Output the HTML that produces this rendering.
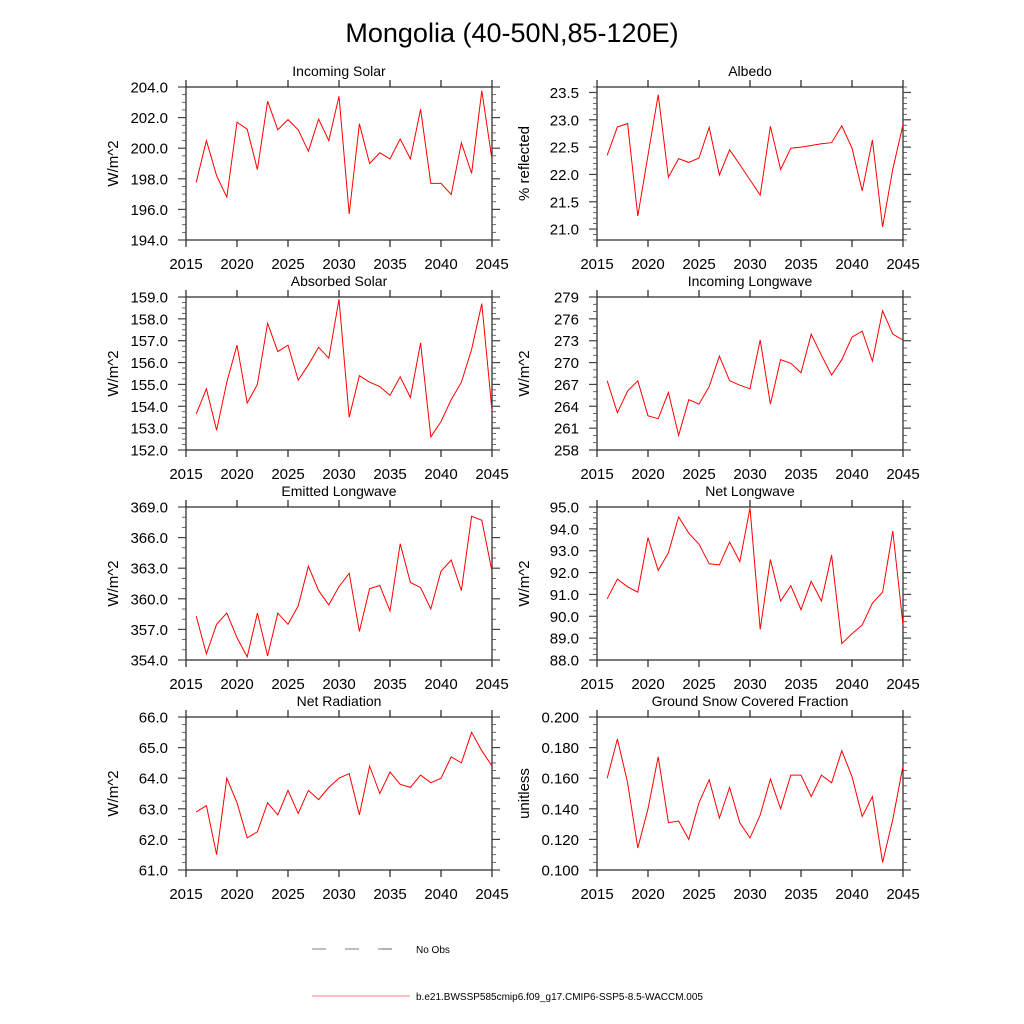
<!DOCTYPE html>
<html><head><meta charset="utf-8"><style>
body{margin:0;background:#fff;}
svg{display:block;font-family:"Liberation Sans",sans-serif;}
</style></head><body>
<svg id="c" width="1024" height="1024"></svg>
<script>
const years=[];for(let y=2016;y<=2045;y++)years.push(y);
const incomingSolar=[197.76,200.5,198.2,196.8,201.7,201.24,198.6,203.07,201.2,201.87,201.2,199.8,201.9,200.5,203.4,195.7,201.6,199.0,199.7,199.3,200.6,199.3,202.55,197.7,197.7,196.97,200.35,198.35,203.76,199.26];
const albedo=[22.35,22.87,22.93,21.24,22.35,23.46,21.95,22.29,22.22,22.3,22.86,21.99,22.45,22.18,21.9,21.62,22.88,22.09,22.48,22.5,22.53,22.56,22.58,22.89,22.48,21.7,22.63,21.04,22.1,22.91];
const absorbedSolar=[153.65,154.8,152.9,155.1,156.8,154.15,155.0,157.8,156.5,156.8,155.2,155.9,156.7,156.2,158.9,153.5,155.4,155.1,154.9,154.5,155.35,154.4,156.9,152.6,153.3,154.3,155.1,156.6,158.7,153.8];
const incomingLW=[267.5,263.1,266.1,267.5,262.7,262.3,265.9,260,264.9,264.3,266.7,270.9,267.5,266.9,266.4,273.1,264.3,270.4,269.9,268.6,273.9,271,268.3,270.4,273.5,274.3,270.2,277.1,273.9,273.1];
const emittedLW=[358.3,354.6,357.5,358.6,356.2,354.3,358.6,354.4,358.6,357.5,359.3,363.2,360.8,359.4,361.2,362.5,356.8,361,361.3,358.8,365.4,361.6,361.1,359,362.7,363.8,360.8,368.1,367.7,362.7];
const netLW=[90.8,91.7,91.35,91.1,93.6,92.1,92.9,94.55,93.8,93.3,92.4,92.35,93.4,92.5,94.95,89.4,92.6,90.7,91.4,90.3,91.6,90.7,92.8,88.75,89.2,89.6,90.6,91.1,93.9,89.6];
const netRad=[62.9,63.1,61.5,64.0,63.2,62.05,62.25,63.2,62.8,63.6,62.85,63.6,63.3,63.7,64.0,64.15,62.8,64.4,63.5,64.2,63.8,63.7,64.1,63.85,64.0,64.7,64.5,65.5,64.9,64.4];
const snow=[0.160,0.1856,0.157,0.1144,0.140,0.174,0.131,0.132,0.120,0.144,0.159,0.134,0.154,0.131,0.121,0.136,0.1595,0.140,0.162,0.162,0.148,0.162,0.157,0.178,0.161,0.135,0.148,0.105,0.133,0.168];
const xTicks=[2015,2020,2025,2030,2035,2040,2045];

const NS='http://www.w3.org/2000/svg';
const svg=document.getElementById('c');
function mk(tag,attrs,parent){const e=document.createElementNS(NS,tag);for(const k in attrs)e.setAttribute(k,attrs[k]);(parent||svg).appendChild(e);return e;}

const t=mk('text',{x:512,y:42,'text-anchor':'middle','font-size':27,fill:'#000'});
t.textContent='Mongolia (40-50N,85-120E)';



const panels=[
 {title:'Incoming Solar',yl:'W/m^2',d:incomingSolar,min:194,max:204,step:2,minor:4,dec:1,col:0,row:0},
 {title:'Albedo',yl:'% reflected',d:albedo,min:20.8,max:23.6,step:0.5,minor:5,dec:1,col:1,row:0,t0:21},
 {title:'Absorbed Solar',yl:'W/m^2',d:absorbedSolar,min:152,max:159,step:1,minor:4,dec:1,col:0,row:1},
 {title:'Incoming Longwave',yl:'W/m^2',d:incomingLW,min:258,max:279,step:3,minor:3,dec:0,col:1,row:1},
 {title:'Emitted Longwave',yl:'W/m^2',d:emittedLW,min:354,max:369,step:3,minor:3,dec:1,col:0,row:2},
 {title:'Net Longwave',yl:'W/m^2',d:netLW,min:88,max:95,step:1,minor:4,dec:1,col:1,row:2},
 {title:'Net Radiation',yl:'W/m^2',d:netRad,min:61,max:66,step:1,minor:4,dec:1,col:0,row:3},
 {title:'Ground Snow Covered Fraction',yl:'unitless',d:snow,min:0.1,max:0.2,step:0.02,minor:4,dec:3,col:1,row:3},
];
const colX=[186,597], W=306, rowY=[87,297,507,717], H=153;

panels.forEach((p,i)=>{
 const L=colX[p.col], T=rowY[p.row], R=L+W, B=T+H;
 const g=mk('g',{});
 
 
 const xs=v=>L+(v-2015)/30*W;
 const ys=v=>B-(v-p.min)/(p.max-p.min)*H;
 mk('rect',{x:L,y:T,width:W,height:H,fill:'none',stroke:'#222','stroke-width':1.2},g);
 xTicks.forEach(v=>{
  const x=xs(v);
  mk('line',{x1:x,x2:x,y1:B,y2:B+7,stroke:'#222','stroke-width':1.2},g);
  mk('line',{x1:x,x2:x,y1:T,y2:T-7,stroke:'#222','stroke-width':1.2},g);
  const tx=mk('text',{x:x,y:B+29,'text-anchor':'middle','font-size':15},g);
  tx.textContent=v;
  
  
 });
 const t0=p.t0!==undefined?p.t0:p.min;
 const mstep=p.step/p.minor;
 for(let k=-p.minor*2;;k++){
  const v=t0+k*mstep; if(v>p.max+1e-9)break; if(v<p.min-1e-9)continue;
  const y=ys(v); const major=(k%p.minor===0);
  const len=major?8:4;
  mk('line',{x1:L,x2:L-len,y1:y,y2:y,stroke:'#444','stroke-width':major?1.2:0.8},g);
  mk('line',{x1:R,x2:R+len,y1:y,y2:y,stroke:'#444','stroke-width':major?1.2:0.8},g);
  if(major){
   const ty=mk('text',{x:L-18,y:y+5.5,'text-anchor':'end','font-size':15},g);
   ty.textContent=v.toFixed(p.dec);
   
   
  }
 }
 const pt=mk('text',{x:L+W/2,y:T-11,'text-anchor':'middle','font-size':14},g);
 pt.textContent=p.title;
 
 
 const yt=mk('text',{x:0,y:0,'text-anchor':'middle','font-size':15,transform:`translate(${L-68},${T+H/2}) rotate(-90)`},g);
 yt.textContent=p.yl;
 
 
 const pts=p.d.map((v,j)=>xs(years[j]).toFixed(1)+','+ys(v).toFixed(1)).join(' ');
 const ln=mk('polyline',{points:pts,fill:'none',stroke:'#f00','stroke-width':1},g);
 
 
});

const lg=mk('g',{});


mk('line',{x1:312,x2:410,y1:949,y2:949,stroke:'#000','stroke-width':0.6,'stroke-dasharray':'14,19'},lg);
const l1=mk('text',{x:416,y:953,'font-size':10},lg);
l1.textContent='No Obs';


mk('line',{x1:312,x2:410,y1:996,y2:996,stroke:'#f00','stroke-width':0.6},lg);
const l2=mk('text',{x:416,y:1000,'font-size':10},lg);
l2.textContent='b.e21.BWSSP585cmip6.f09_g17.CMIP6-SSP5-8.5-WACCM.005';


</script>
</body></html>
